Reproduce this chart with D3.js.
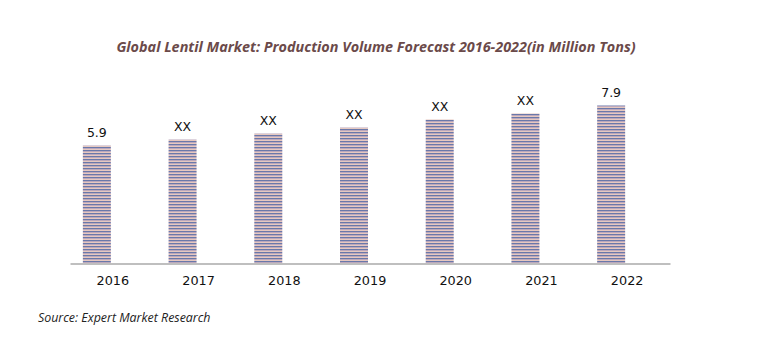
<!DOCTYPE html>
<html>
<head>
<meta charset="utf-8">
<script src="https://cdn.jsdelivr.net/npm/d3@7"></script>
<style>
  html, body { margin: 0; padding: 0; background: #fff; }
  svg { display: block; }
</style>
</head>
<body>
<svg id="chart" width="758" height="345"></svg>
<script>
const categories = ["2016", "2017", "2018", "2019", "2020", "2021", "2022"];
const values = [5.9, 6.2, 6.5, 6.8, 7.2, 7.5, 7.9];
const valueLabels = ["5.9", "XX", "XX", "XX", "XX", "XX", "7.9"];
const titleText = "Global Lentil Market: Production Volume Forecast 2016-2022(in Million Tons)";
const sourceText = "Source: Expert Market Research";

const svg = d3.select("#chart");
const W = 758, H = 345;
svg.append("rect").attr("width", W).attr("height", H).attr("fill", "#fff");

const defs = svg.append("defs");
const pat = defs.append("pattern")
  .attr("id", "stripes")
  .attr("patternUnits", "userSpaceOnUse")
  .attr("width", 4).attr("height", 3);
pat.append("rect").attr("x", 0).attr("y", 0).attr("width", 4).attr("height", 3).attr("fill", "#e6c8c0");
pat.append("rect").attr("x", 0).attr("y", 0).attr("width", 4).attr("height", 1).attr("fill", "#6a78aa");
pat.append("rect").attr("x", 0).attr("y", 1).attr("width", 4).attr("height", 1).attr("fill", "#bca8bc");

const x = d3.scaleBand().domain(categories).range([70, 670]).padding(0);
const y = d3.scaleLinear().domain([0, 10]).range([263.5, 63.5]);

const barW = 28;
const barOffset = -16;

// title
svg.append("text")
  .attr("x", 376).attr("y", 52)
  .attr("text-anchor", "middle")
  .attr("font-family", "'Open Sans', sans-serif")
  .attr("font-style", "italic").attr("font-weight", "bold")
  .attr("font-size", 14.4)
  .attr("fill", "#6b4a4a")
  .text(titleText);

// bars
svg.append("g").selectAll("rect")
  .data(categories)
  .join("rect")
  .attr("x", (d) => x(d) + x.bandwidth() / 2 + barOffset - barW / 2)
  .attr("width", barW)
  .attr("y", (d, i) => y(values[i]))
  .attr("height", (d, i) => y(0) - y(values[i]))
  .attr("fill", "url(#stripes)");

// value labels
svg.append("g").selectAll("text")
  .data(categories)
  .join("text")
  .attr("x", (d) => x(d) + x.bandwidth() / 2 + barOffset)
  .attr("y", (d, i) => y(values[i]) - 9)
  .attr("text-anchor", "middle")
  .attr("font-family", "'DejaVu Sans', sans-serif")
  .attr("font-size", 12.5)
  .attr("fill", "#111")
  .text((d, i) => valueLabels[i]);

// x axis
const xAxis = d3.axisBottom(x).tickSize(0).tickPadding(12);
const gx = svg.append("g").attr("transform", `translate(0,${y(0)})`).call(xAxis);
gx.select(".domain").attr("stroke", "#bfbfbf").attr("stroke-width", 2);
gx.selectAll("text")
  .attr("font-family", "'DejaVu Sans', sans-serif")
  .attr("font-size", 12.8)
  .attr("fill", "#111");

// source
svg.append("text")
  .attr("x", 38).attr("y", 322)
  .attr("font-family", "'Open Sans', sans-serif")
  .attr("font-style", "italic")
  .attr("font-size", 12.4)
  .attr("fill", "#222")
  .text(sourceText);
</script>
</body>
</html>
